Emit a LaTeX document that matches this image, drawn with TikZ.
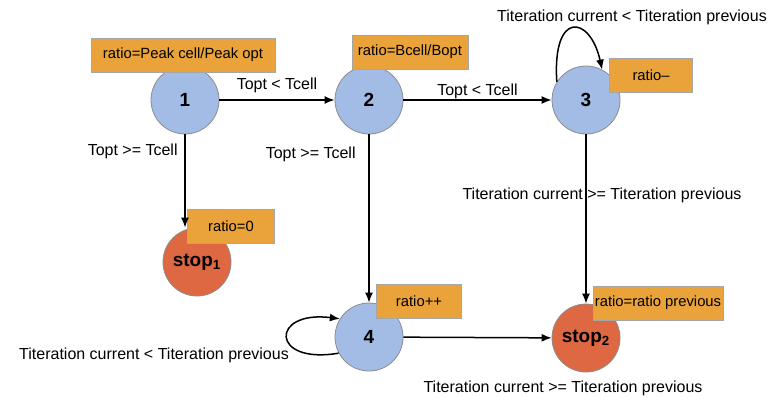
\documentclass[tikz,border=0pt]{standalone}
\usepackage{fontspec}
\setmainfont{Liberation Sans}
\usetikzlibrary{arrows.meta}
\definecolor{stateblue}{HTML}{A3BCE6}
\definecolor{stopred}{HTML}{DE6842}
\definecolor{ratioorange}{HTML}{E9A33A}
\begin{document}
\begin{tikzpicture}[x=0.5pt,y=-0.5pt,
    statecirc/.style={circle,draw=black!45,fill=stateblue,minimum size=34pt,inner sep=0pt,
      font=\fontsize{9.5}{11}\selectfont\bfseries},
    stopcirc/.style={statecirc,fill=stopred},
    ratiobox/.style={draw=black!35,fill=ratioorange,minimum height=17pt,inner sep=0pt,
      font=\fontsize{7.4}{9}\selectfont},
    cond/.style={font=\fontsize{8}{10}\selectfont},
    trans/.style={-{Latex[length=5pt,width=4pt]},line width=0.75pt}]

\useasboundingbox (0,0) rectangle (774,398);

   % states
   \node[statecirc] at (185,100) (s1) {1};
   \node[statecirc] at (369,100) (s2) {2};
   \node[statecirc] at (586,100) (s3) {3};
   \node[statecirc] at (369,337) (s4) {4};
   \node[stopcirc] at (197,262) (stopa) {stop\textsubscript{1}};
   \node[stopcirc] at (586,338) (stopb) {stop\textsubscript{2}};

   % ratio boxes
   \node[ratiobox,minimum width=92pt] at (183,55) (r1) {ratio=Peak cell/Peak opt};
   \node[ratiobox,minimum width=58pt] at (410,52) (r2) {ratio=Bcell/Bopt};
   \node[ratiobox,minimum width=41.5pt] at (651,75) (r3) {ratio--};
   \node[ratiobox,minimum width=43.5pt] at (231,226) (ra) {ratio=0};
   \node[ratiobox,minimum width=42.5pt] at (419,301) (r4) {ratio++};
   \node[ratiobox,minimum width=65pt] at (658,303) (rb) {ratio=ratio previous};

   % transitions
   \draw[trans] (s1) -- (s2) node[midway,above,cond] {Topt < Tcell};
   \draw[trans] (s2) -- (s3) node[midway,above,cond,yshift=-3pt] {Topt < Tcell};
   \draw[trans] (s1) -- (s1 |- stopa.north) node[pos=.18,left,cond] {Topt >= Tcell};
   \draw[trans] (s2) -- (s4) node[pos=.12,left,cond,xshift=-3pt] {Topt >= Tcell};
   \draw[trans] (s3) -- (stopb) node[pos=.36,cond,xshift=8pt] {Titeration current >= Titeration previous};
   \draw[trans] (s4) -- (stopb);
   \draw[trans] (s3.148) .. controls (552,10) and (590,15) .. (s3.62);
   \draw[trans] (s4.208) .. controls (270,365) and (270,310) .. (s4.148);

   % loop and exit labels
   \node[cond] at (632,17) (l3) {Titeration current < Titeration previous};
   \node[cond] at (154,355) (l4) {Titeration current < Titeration previous};
   \node[cond] at (563,388) (l4b) {Titeration current >= Titeration previous};

\end{tikzpicture}
\end{document}
